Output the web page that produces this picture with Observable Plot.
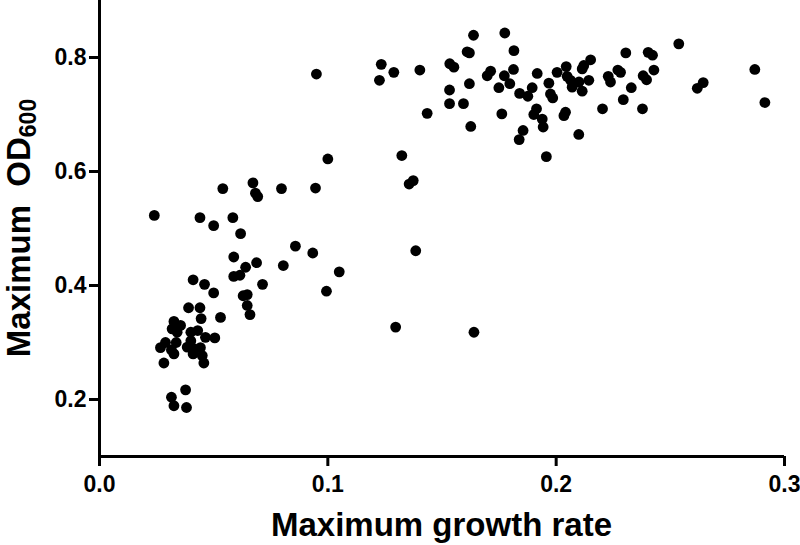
<!DOCTYPE html>
<html>
<head>
<meta charset="utf-8">
<script src="https://cdn.jsdelivr.net/npm/d3@7"></script>
<script src="https://cdn.jsdelivr.net/npm/@observablehq/plot@0.6"></script>
<style>
  html, body { margin: 0; padding: 0; background: #fff; }
  #chart { width: 800px; height: 545px; }
</style>
</head>
<body>
<div id="chart"></div>
<script>
// Maximum growth rate (x) and Maximum OD600 (y)
const growthRate = [
  0.024, 0.044, 0.050, 0.054, 0.041, 0.046, 0.050, 0.039, 0.044, 0.053,
  0.0445, 0.0326, 0.0355, 0.0318, 0.034, 0.040, 0.043, 0.0505, 0.0464, 0.040,
  0.0289, 0.0336, 0.0267, 0.0315, 0.0384, 0.0413, 0.0442, 0.0326, 0.041, 0.045,
  0.0282, 0.0457, 0.0377, 0.0315, 0.0326, 0.0381,
  0.0672, 0.0683, 0.0693, 0.0797, 0.0946, 0.0584, 0.0618, 0.0858, 0.0934, 0.0588,
  0.0688, 0.0640, 0.0805, 0.0588, 0.0615, 0.0714, 0.0994, 0.0629, 0.0647, 0.0647,
  0.0659, 0.100, 0.1324, 0.1374, 0.1356, 0.1385, 0.105, 0.1297, 0.164, 0.095,
  0.1234, 0.1289, 0.1226, 0.1403, 0.1435, 0.1534, 0.1552, 0.1638, 0.1610, 0.1620,
  0.1533, 0.162, 0.1533, 0.1594, 0.1626, 0.1775, 0.1815, 0.1713, 0.1698, 0.1813,
  0.1773, 0.1749, 0.1797, 0.1917, 0.184, 0.1876, 0.1895, 0.1762, 0.1914, 0.1902,
  0.1855, 0.1838, 0.1968, 0.1975, 0.1985, 0.2004, 0.2044, 0.2048, 0.2063, 0.207,
  0.2114, 0.210, 0.2114, 0.2143, 0.2151, 0.2121, 0.1939, 0.1943, 0.2041, 0.2034,
  0.1957, 0.2099, 0.2203, 0.2228, 0.2238, 0.227, 0.2282, 0.2305, 0.2294, 0.2329,
  0.2378, 0.2381, 0.2396, 0.2403, 0.2422, 0.2428, 0.2537, 0.2618, 0.2644, 0.287,
  0.2914
];
const maxOD = [
  0.523, 0.519, 0.505, 0.570, 0.410, 0.402, 0.387, 0.361, 0.361, 0.344,
  0.342, 0.337, 0.330, 0.324, 0.318, 0.318, 0.321, 0.308, 0.309, 0.303,
  0.300, 0.300, 0.291, 0.287, 0.292, 0.289, 0.291, 0.280, 0.280, 0.277,
  0.264, 0.264, 0.217, 0.204, 0.189, 0.186,
  0.580, 0.562, 0.556, 0.570, 0.571, 0.519, 0.491, 0.469, 0.457, 0.450,
  0.440, 0.432, 0.435, 0.416, 0.418, 0.402, 0.390, 0.382, 0.384, 0.365,
  0.349, 0.622, 0.628, 0.584, 0.578, 0.461, 0.424, 0.327, 0.318, 0.771,
  0.788, 0.774, 0.760, 0.778, 0.702, 0.789, 0.783, 0.839, 0.810, 0.808,
  0.743, 0.754, 0.719, 0.719, 0.679, 0.843, 0.812, 0.776, 0.768, 0.779,
  0.768, 0.747, 0.754, 0.772, 0.737, 0.732, 0.747, 0.701, 0.710, 0.700,
  0.672, 0.656, 0.755, 0.736, 0.729, 0.774, 0.784, 0.767, 0.760, 0.748,
  0.741, 0.757, 0.780, 0.760, 0.796, 0.786, 0.692, 0.678, 0.704, 0.698,
  0.626, 0.665, 0.710, 0.767, 0.757, 0.778, 0.774, 0.808, 0.726, 0.747,
  0.710, 0.768, 0.761, 0.809, 0.804, 0.778, 0.824, 0.746, 0.756, 0.779,
  0.721
];
const xTicks = [0.0, 0.1, 0.2, 0.3];
const yTicks = [0.2, 0.4, 0.6, 0.8];
const xTitle = "Maximum growth rate";
const yTitleMain = "Maximum\u00a0\u00a0OD";
const yTitleSub = "600";

const points = growthRate.map((g, i) => ({x: g, y: maxOD[i]}));

const FONT = "'Liberation Sans', Arial, Helvetica, sans-serif";

const svg = Plot.plot({
  width: 800,
  height: 545,
  marginTop: 0,
  marginLeft: 99,
  marginRight: 16,
  marginBottom: 89,
  style: {fontFamily: FONT, fontWeight: "bold", fontSize: "23px", color: "#000", background: "#fff"},
  x: {domain: [0, 0.3], label: null},
  y: {domain: [0.1, 0.9], label: null},
  marks: [
    Plot.axisX({ticks: xTicks, tickFormat: d3.format(".1f"), tickSize: 10, tickPadding: 9,
      strokeWidth: 3, fontSize: 23, fontWeight: "bold", label: null}),
    Plot.axisY({ticks: yTicks, tickFormat: d3.format(".1f"), tickSize: 10, tickPadding: 3,
      strokeWidth: 3, fontSize: 23, fontWeight: "bold", label: null}),
    Plot.ruleX([0], {strokeWidth: 3, stroke: "#000"}),
    Plot.ruleY([0.1], {strokeWidth: 3, stroke: "#000"}),
    Plot.dot(points, {x: "x", y: "y", r: 5.4, fill: "#000", stroke: "none"})
  ]
});

const s = d3.select(svg);

s.append("text")
  .attr("x", (99 + 784) / 2)
  .attr("y", 536)
  .attr("text-anchor", "middle")
  .style("font-family", FONT)
  .style("font-weight", "bold")
  .style("font-size", "33px")
  .text(xTitle);

const yt = s.append("text")
  .attr("transform", "translate(30,228) rotate(-90)")
  .attr("text-anchor", "middle")
  .style("font-family", FONT)
  .style("font-weight", "bold")
  .style("font-size", "33px");
yt.append("tspan").text(yTitleMain);
yt.append("tspan").attr("dy", "0.25em").style("font-size", "23px").text(yTitleSub);

document.getElementById("chart").appendChild(svg);
</script>
</body>
</html>
